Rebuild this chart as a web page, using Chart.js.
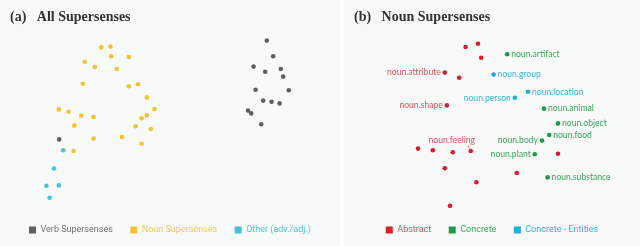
<!DOCTYPE html>
<html>
<head>
<meta charset="utf-8">
<script src="https://cdn.jsdelivr.net/npm/chart.js@4/dist/chart.umd.min.js"></script>
<style>
  html, body { margin: 0; padding: 0; background: #ffffff; width: 640px; height: 246px; overflow: hidden; }
  .panel { position: absolute; top: 0; height: 246px; background: #f8f9f9; }
  #pa { left: 0; width: 340px; }
  #pb { left: 344px; width: 296px; }
</style>
</head>
<body>
<div class="panel" id="pa"><canvas id="ca" width="340" height="246"></canvas></div>
<div class="panel" id="pb"><canvas id="cb" width="296" height="246"></canvas></div>
<script>
// ---------- DATA (2-D embedding coordinates) ----------
const panelTitles = ["(a)\u2002 All Supersenses", "(b)\u2002 Noun Supersenses"];

// Panel (a)
const groupNamesA = ["Verb Supersenses", "Noun Supersenses", "Other (adv./adj.)"];
const verbPoints = [
  [24.2, 21.1], [25.8, 17.2], [20.9, 14.6], [23.8, 13.3], [27.7, 14.0],
  [28.3, 12.1], [21.4, 8.8], [29.7, 8.7], [23.3, 6.1], [25.4, 5.8],
  [27.4, 5.4], [19.5, 3.6], [20.3, 2.9], [22.8, 0.2], [-27.7, -3.6]
];
const nounPoints = [
  [-17.2, 19.4], [-14.9, 19.6], [-14.7, 17.2], [-10.3, 17.0], [-21.3, 15.8],
  [-18.8, 14.5], [-13.3, 14.0], [-21.8, 10.3], [-10.3, 9.7], [-8.0, 10.2],
  [-5.8, 6.9], [-3.9, 4.0], [-27.8, 3.9], [-25.4, 3.3], [-22.2, 2.3],
  [-19.1, 2.0], [-23.9, -0.1], [-19.1, -3.4], [-24.1, -6.5], [-5.8, 2.4],
  [-7.1, 1.7], [-8.6, -0.3], [-4.8, -1.0], [-12.0, -3.0], [-7.1, -4.7]
];
const otherPoints = [
  [-26.7, -6.3], [-29.0, -10.9], [-30.9, -15.2], [-27.8, -15.1], [-30.1, -18.2]
];

// Panel (b)
const groupNamesB = ["Abstract", "Concrete", "Concrete - Entities"];
const abstractPoints = [
  [-7.1, 19.5], [-4.0, 20.3], [-3.2, 16.8], [-12.3, 13.1], [-8.7, 11.8],
  [-11.8, 4.9], [-19.0, -5.9], [-15.3, -6.3], [-10.3, -6.8], [-5.8, -6.5],
  [-12.3, -10.8], [-4.4, -14.3], [5.7, -12.0], [-11.0, -20.2], [16.0, -7.2]
];
const abstractLabels = ["", "", "", "noun.attribute", "", "noun.shape", "", "", "", "noun.feeling", "", "", "", "", ""];
const concretePoints = [
  [3.3, 17.7], [12.5, 4.1], [16.0, 0.4], [13.8, -2.5], [12.0, -3.9], [10.2, -7.3], [13.4, -13.1]
];
const concreteLabels = ["noun.artifact", "noun.animal", "noun.object", "noun.food", "noun.body", "noun.plant", "noun.substance"];
const entityPoints = [
  [-0.1, 12.6], [5.2, 6.8], [8.5, 8.3]
];
const entityLabels = ["noun.group", "noun.person", "noun.location"];

// ---------- STYLE ----------
const dotColorsA = ["#5f5f5f", "#f1c232", "#45c3cf"];
const textColorsA = ["#707070", "#f3cc55", "#4cc6d2"];
const dotColorsB = ["#d81e2c", "#1e9a46", "#1daedb"];
const textColorsB = ["#e0505c", "#3aa75c", "#33b6e0"];
const labelPlacement = {
  "noun.attribute": { side: "left" },
  "noun.shape": { side: "left" },
  "noun.person": { side: "left" },
  "noun.body": { side: "left" },
  "noun.plant": { side: "left" },
  "noun.feeling": { side: "above", dx: -19, dy: -10.5, leader: true }
};

const toXY = arr => arr.map(p => ({ x: p[0], y: p[1] }));

const pointLabelPlugin = {
  id: "pointLabels",
  afterDatasetsDraw(chart) {
    const ctx = chart.ctx;
    ctx.save();
    ctx.font = "8.6px Lato";
    ctx.textBaseline = "middle";
    chart.data.datasets.forEach((ds, di) => {
      if (!ds.pointLabels) return;
      const meta = chart.getDatasetMeta(di);
      meta.data.forEach((el, i) => {
        const txt = ds.pointLabels[i];
        if (!txt) return;
        const place = labelPlacement[txt] || { side: "right" };
        ctx.fillStyle = ds.labelColor;
        if (place.side === "left") {
          ctx.textAlign = "right";
          ctx.fillText(txt, el.x - 4, el.y);
        } else if (place.side === "right") {
          ctx.textAlign = "left";
          ctx.fillText(txt, el.x + 4, el.y);
        } else {
          ctx.textAlign = "center";
          ctx.fillText(txt, el.x + place.dx, el.y + place.dy);
          if (place.leader) {
            ctx.strokeStyle = ds.labelColor;
            ctx.lineWidth = 0.8;
            ctx.beginPath();
            ctx.moveTo(el.x - 3, el.y - 5.5);
            ctx.lineTo(el.x - 1.5, el.y - 2.5);
            ctx.stroke();
          }
        }
      });
    });
    ctx.restore();
  }
};

function makeChart(canvasId, title, names, pointSets, dotColors, textColors, labelSets, xr, yr) {
  const datasets = names.map((n, i) => ({
    label: n,
    data: toXY(pointSets[i]),
    backgroundColor: dotColors[i],
    borderWidth: 0,
    pointRadius: 2.3,
    pointHoverRadius: 2.3,
    pointLabels: labelSets ? labelSets[i] : null,
    labelColor: textColors[i]
  }));
  return new Chart(document.getElementById(canvasId), {
    type: "scatter",
    data: { datasets },
    plugins: [pointLabelPlugin],
    options: {
      responsive: false,
      animation: false,
      devicePixelRatio: 1,
      layout: { padding: { left: 10, right: 10, top: 0, bottom: 1.5 } },
      scales: {
        x: { type: "linear", display: false, min: xr[0], max: xr[1] },
        y: { type: "linear", display: false, min: yr[0], max: yr[1] }
      },
      plugins: {
        tooltip: { enabled: false },
        title: {
          display: true,
          text: title,
          align: "start",
          color: "#333333",
          font: { family: "Liberation Serif", size: 14, weight: "bold" },
          padding: { top: 9, bottom: 6.8 }
        },
        legend: {
          display: true,
          position: "bottom",
          labels: {
            boxWidth: 7,
            boxHeight: 7,
            padding: 17.5,
            font: { family: "Roboto", size: 9 },
            generateLabels: (ch) => ch.data.datasets.map((d, i) => ({
              text: d.label,
              fillStyle: dotColors[i],
              strokeStyle: dotColors[i],
              lineWidth: 0,
              fontColor: textColors[i],
              datasetIndex: i,
              hidden: false
            }))
          }
        }
      }
    }
  });
}

makeChart("ca", panelTitles[0], groupNamesA, [verbPoints, nounPoints, otherPoints],
  dotColorsA, textColorsA, null, [-40, 40], [-20.75, 23.1]);
makeChart("cb", panelTitles[1], groupNamesB, [abstractPoints, concretePoints, entityPoints],
  dotColorsB, textColorsB, [abstractLabels, concreteLabels, entityLabels], [-35, 34], [-20.75, 23.1]);
</script>
</body>
</html>
